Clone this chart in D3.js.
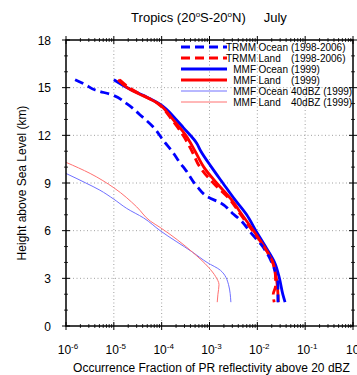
<!DOCTYPE html>
<html>
<head>
<meta charset="utf-8">
<script src="https://cdn.jsdelivr.net/npm/d3@7"></script>
<style>
  html,body{margin:0;padding:0;background:#fff;}
  svg{display:block;font-family:"Liberation Sans",Arial,Helvetica,sans-serif;}
</style>
</head>
<body>
<svg id="chart" width="357" height="375"></svg>
<script>
// ── data (heights in km, values = occurrence fraction) ──
const hTrmmOcean=[15.5,15.2,14.85,14.55,14.0,13.3,12.5,11.7,10.9,10.25,9.8,8.75,8.1,7.75,7.1,6.65,5.9,5.0,4.15,3.35,2.7,1.5];
const trmmOcean=[1.55e-6,2.5e-6,4.1e-6,9.1e-6,1.86e-5,3.5e-5,6.8e-5,1.07e-4,1.74e-4,2.45e-4,3.2e-4,5.6e-4,9.5e-4,1.7e-3,3.0e-3,4.5e-3,7.2e-3,1.29e-2,1.9e-2,2.4e-2,2.7e-2,2.7e-2];

const hTrmmLand=[15.5,15.0,14.0,13.0,12.0,11.0,10.0,9.0,8.0,7.0,6.0,5.0,4.0,3.0,2.5,2.0,1.5];
const trmmLand=[1.32e-5,2.1e-5,8.3e-5,1.62e-4,2.8e-4,4.3e-4,6.3e-4,1.2e-3,2.6e-3,4.5e-3,7.9e-3,1.38e-2,2.1e-2,2.4e-2,2.4e-2,2.15e-2,2.25e-2];

const hMmfOcean=[15.5,15.0,14.5,14.0,13.0,12.5,11.5,11.0,10.0,9.0,8.0,7.0,6.0,5.0,4.0,3.0,2.0,1.5];
const mmfOcean=[1.0e-5,1.9e-5,4.2e-5,8.7e-5,2.0e-4,2.8e-4,5.4e-4,6.6e-4,1.1e-3,1.9e-3,3.3e-3,6.0e-3,9.3e-3,1.48e-2,2.3e-2,2.9e-2,3.4e-2,3.8e-2];

const hMmfLand=[15.5,15.0,14.0,13.0,12.0,11.0,10.0,9.0,8.0,7.0,6.0,5.0,4.0,3.0,2.0,1.5];
const mmfLand=[1.23e-5,1.9e-5,8.5e-5,1.72e-4,3.2e-4,5.0e-4,7.6e-4,1.41e-3,2.8e-3,4.8e-3,8.3e-3,1.38e-2,2.1e-2,2.5e-2,2.7e-2,2.75e-2];

const hMmfOcean40=[9.6,9.0,8.55,8.0,7.4,6.8,6.0,4.65,4.0,3.5,2.6,1.5];
const mmfOcean40=[1.0e-6,2.6e-6,5.1e-6,9.8e-6,1.86e-5,4.2e-5,9.3e-5,4.4e-4,8.9e-4,1.7e-3,2.5e-3,2.8e-3];

const hMmfLand40=[10.3,9.6,8.7,7.5,6.6,6.2,4.65,3.7,3.1,2.6,2.0,1.5];
const mmfLand40=[1.0e-6,3.2e-6,1.0e-5,3.0e-5,5.8e-5,9.3e-5,4.4e-4,9.5e-4,1.35e-3,1.58e-3,1.5e-3,1.45e-3];

const xDecades=[1e-6,1e-5,1e-4,1e-3,1e-2,1e-1,1];
const xExps=["-6","-5","-4","-3","-2","-1","0"];
const yTicks=[0,3,6,9,12,15,18];

const legendFirst=["TRMM","TRMM","MMF","MMF","MMF","MMF"];
const legendSecond=["Ocean","Land","Ocean","Land","Ocean","Land"];
const legendRest=["(1998-2006)","(1998-2006)","(1999)","(1999)","40dBZ (1999)","40dBZ (1999)"];

// ── layout ──
const L=66,R=353,T=40,B=326;
const svg=d3.select('#chart');
const x=d3.scaleLog().domain([1e-6,1]).range([L,R]);
const y=d3.scaleLinear().domain([0,18]).range([B,T]);

// series styling (drawn in this order)
const series=[
  {h:hMmfOcean,v:mmfOcean,color:'#0000ff',w:2.8,dash:null},
  {h:hMmfLand,v:mmfLand,color:'#ff0000',w:2.8,dash:null},
  {h:hTrmmOcean,v:trmmOcean,color:'#0000ff',w:2.8,dash:'9,5'},
  {h:hTrmmLand,v:trmmLand,color:'#ff0000',w:2.8,dash:'9,5'},
  {h:hMmfOcean40,v:mmfOcean40,color:'#7070ff',w:1,dash:null},
  {h:hMmfLand40,v:mmfLand40,color:'#ff7070',w:1,dash:null}
];
// legend order -> series index
const legendSeries=[2,3,0,1,4,5];

// title
const title=svg.append('text').attr('x',209).attr('y',22).attr('text-anchor','middle')
  .attr('font-size',13).attr('fill','#000');
title.append('tspan').text('Tropics (20');
title.append('tspan').attr('font-size',8).attr('dy',-5).text('o');
title.append('tspan').attr('dy',5).text('S-20');
title.append('tspan').attr('font-size',8).attr('dy',-5).text('o');
title.append('tspan').attr('dy',5).text('N)');
title.append('tspan').attr('dx',18).text('July');

// grid (dotted)
const grid=svg.append('g').attr('stroke','#a0a0a0').attr('stroke-width',1).attr('stroke-dasharray','1,2.5');
xDecades.slice(1,-1).forEach(d=>{
  grid.append('line').attr('x1',x(d)).attr('x2',x(d)).attr('y1',T).attr('y2',B);
});
yTicks.slice(1,-1).forEach(d=>{
  grid.append('line').attr('x1',L).attr('x2',R).attr('y1',y(d)).attr('y2',y(d));
});

// curves — heights decrease monotonically, so a monotone-in-y curve keeps them smooth
svg.append('clipPath').attr('id','clip').append('rect').attr('x',L).attr('y',T).attr('width',R-L).attr('height',B-T);
const line=d3.line().x(d=>x(d[1])).y(d=>y(d[0])).curve(d3.curveMonotoneY);
const plot=svg.append('g').attr('clip-path','url(#clip)');
series.forEach(s=>{
  plot.append('path').datum(s.h.map((h,i)=>[h,s.v[i]]))
    .attr('d',line).attr('fill','none').attr('stroke',s.color)
    .attr('stroke-width',s.w).attr('stroke-dasharray',s.dash);
});

// frame + ticks
const axes=svg.append('g').attr('stroke','#000');
axes.append('rect').attr('x',L).attr('y',T).attr('width',R-L).attr('height',B-T)
  .attr('fill','none').attr('stroke-width',1.5);
const xMinor=[];
for(let e=-6;e<0;e++)for(let m=2;m<10;m++)xMinor.push(m*Math.pow(10,e));
xDecades.forEach(d=>{
  [B,T].forEach(yy=>axes.append('line').attr('x1',x(d)).attr('x2',x(d)).attr('y1',yy-4).attr('y2',yy+4));
});
xMinor.forEach(d=>{
  [B,T].forEach(yy=>axes.append('line').attr('x1',x(d)).attr('x2',x(d)).attr('y1',yy-2).attr('y2',yy+2).attr('stroke-width',0.8));
});
d3.range(0,19).forEach(k=>{
  const len=k%3===0?4:2;
  [L,R].forEach(xx=>axes.append('line').attr('x1',xx-len).attr('x2',xx+len).attr('y1',y(k)).attr('y2',y(k))
    .attr('stroke-width',k%3===0?1:0.8));
});

// tick labels
svg.append('g').selectAll('text').data(yTicks).join('text')
  .attr('x',51).attr('y',d=>y(d)+4.5).attr('text-anchor','end').attr('font-size',12).text(d=>d);
xDecades.forEach((d,i)=>{
  const t=svg.append('text').attr('x',x(d)+2).attr('y',354).attr('text-anchor','middle').attr('font-size',12);
  t.append('tspan').text('10');
  t.append('tspan').attr('font-size',8).attr('dy',-5).text(xExps[i]);
});

// axis titles
svg.append('text').attr('x',(L+R)/2+2).attr('y',372).attr('text-anchor','middle').attr('font-size',12)
  .text('Occurrence Fraction of PR reflectivity above 20 dBZ');
svg.append('text').attr('transform','translate(26,183) rotate(-90)').attr('text-anchor','middle')
  .attr('font-size',12).text('Height above Sea Level (km)');

// legend
const lg=svg.append('g').attr('font-size',10);
legendSeries.forEach((si,i)=>{
  const s=series[si];
  const ly=47+i*11;
  lg.append('line').attr('x1',181).attr('x2',227).attr('y1',ly).attr('y2',ly)
    .attr('stroke',s.color).attr('stroke-width',s.w).attr('stroke-dasharray',s.dash);
  lg.append('text').attr('x',256).attr('y',ly+3.5).attr('text-anchor','end').text(legendFirst[i]);
  lg.append('text').attr('x',258.5).attr('y',ly+3.5).text(legendSecond[i]);
  lg.append('text').attr('x',291).attr('y',ly+3.5).text(legendRest[i]);
});
</script>
</body>
</html>
